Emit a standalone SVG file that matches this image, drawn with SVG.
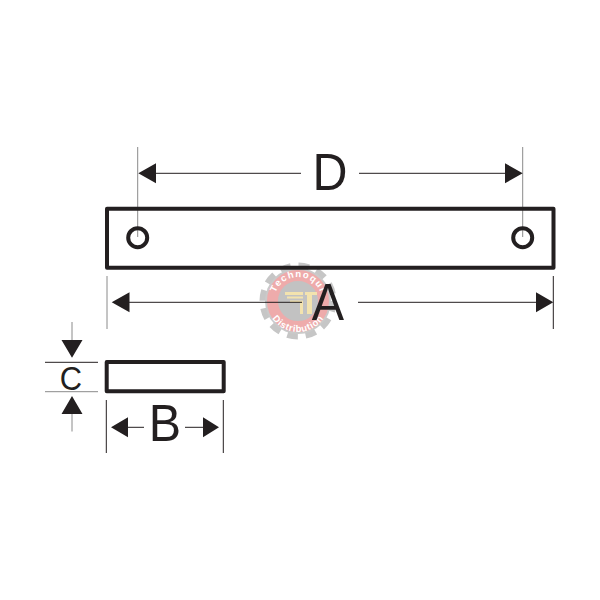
<svg xmlns="http://www.w3.org/2000/svg" width="600" height="600" viewBox="0 0 600 600">
<style>
.part{fill:none;stroke:#231f20;stroke-width:4;stroke-linejoin:round}
.thin{fill:none;stroke:#231f20;stroke-width:1}
.ext{fill:none;stroke:#8a8a8a;stroke-width:1}
.head{fill:#231f20}
.lab{font-family:"Liberation Sans",Arial,sans-serif;fill:#231f20;text-anchor:middle}
.big{font-size:51px}
.mark{font-family:"Liberation Sans",Arial,sans-serif;font-weight:bold;font-size:9.500px;fill:#fff}
</style>
<defs>
<path id="arcTop" d="M274 301A24 24 0 0 1 322 301"/>
<path id="arcBot" d="M267 301A31 31 0 0 0 329 301"/>
</defs>
<rect width="600" height="600" fill="#fff"/>
<g id="watermark">
<circle cx="298" cy="301" r="33" fill="none" stroke="#c6c6c6" stroke-width="11" stroke-dasharray="10 7.300"/>
<circle cx="298" cy="301" r="33" fill="#cacaca"/>
<circle cx="298" cy="301" r="25.500" fill="#c2c2c2" stroke="#eeabab" stroke-width="11"/>
<text class="mark" letter-spacing="1.200"><textPath href="#arcTop" startOffset="50%" text-anchor="middle">Technoqui</textPath></text>
<text class="mark" letter-spacing=".6"><textPath href="#arcBot" startOffset="50%" text-anchor="middle">Distribution</textPath></text>
<path d="M285 292H303V295H285ZM287 296.500H303V298.500H287ZM290 300.500H303V302.500H290ZM300 302H303V314H300ZM305 292H317V295H312V314H307V295H305Z" fill="#f3e3ae"/>
</g>
<g id="connectors">
<path class="ext" d="M137.700 147V237M522.700 147V237M107 276V329M45 391.700H98M72 322V340M72 414V431.500"/>
<path class="thin" d="M553.300 276V329M45 362.300H98M106.300 400V453M223.300 400V453M156 173.300H301M359 173.300H505M129 302.300H302M358 302.300H536M128 427.300H144M185 427.300H203"/>
<path class="head" d="M138.300 173.300L156 163.300V183.300ZM522.700 173.300L505 163.300V183.300ZM111.700 302.300L129.500 292.300V312.300ZM553.300 302.300L536 292.300V312.300ZM111 427.300L128 417.300V437.300ZM219 427.300L203 417.300V437.300ZM72 357.700L61.500 340H82.500ZM72 396L61.500 414H82.500Z"/>
</g>
<g id="plate">
<rect class="part" x="107" y="208.700" width="446.500" height="59"/>
<circle class="part" cx="137.700" cy="237.700" r="9.500"/>
<circle class="part" cx="522.700" cy="237.700" r="9.500"/>
</g>
<g id="section">
<rect class="part" x="106.700" y="362" width="117" height="29.300"/>
</g>
<g id="labels">
<text class="lab big" transform="translate(330 190) scale(.95 1)">D</text>
<text class="lab big" transform="translate(328 320) scale(.95 1)">A</text>
<text class="lab big" transform="translate(165 441) scale(.95 1)">B</text>
<text class="lab" transform="translate(71 390) scale(.95 1)" font-size="32.500">C</text>
</g>
</svg>
